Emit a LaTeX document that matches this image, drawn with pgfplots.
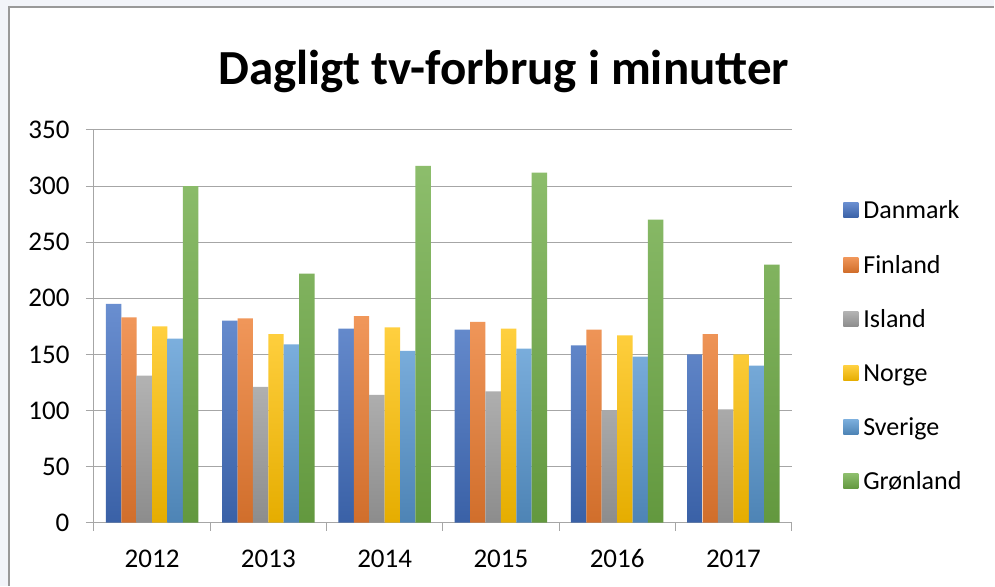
\documentclass[border=0pt]{standalone}
\usepackage{fontspec}
\setmainfont{Carlito}
\usepackage{pgfplots}
\pgfplotsset{compat=1.18}
\definecolor{cDK}{HTML}{4472C4}
\definecolor{cFI}{HTML}{ED7D31}
\definecolor{cIS}{HTML}{A5A5A5}
\definecolor{cNO}{HTML}{FFC000}
\definecolor{cSE}{HTML}{5B9BD5}
\definecolor{cGL}{HTML}{70AD47}
\definecolor{bgc}{HTML}{F2F4F9}
\definecolor{gridc}{HTML}{A6A6A6}
\begin{document}
\begin{tikzpicture}
\fill[bgc] (0pt,0pt) rectangle (995pt,586pt);
\fill[white] (9pt,0pt) rectangle (995pt,579pt);
\draw[gray!80, line width=1.2pt] (9pt,0pt) -- (9pt,579pt) -- (995pt,579pt);
\node[font=\fontsize{49}{54}\selectfont\bfseries, anchor=base, inner sep=0pt] at (504pt,501pt) {Dagligt tv-forbrug i minutter};
\begin{axis}[
  at={(94pt,63pt)}, anchor=south west, scale only axis,
  width=698pt, height=393pt,
  ymin=0, ymax=350, ytick={0,50,...,350},
  xmin=-0.5, xmax=5.5,
  xtick={-0.5,0.5,...,5.5}, x tick label as interval,
  xticklabels={2012,2013,2014,2015,2016,2017},
  ybar=0pt, bar width=0.1325,
  ymajorgrids, grid style={gridc, line width=0.9pt},
  axis x line*=bottom, axis y line*=left,
  axis line style={gridc, line width=0.9pt},
  tick align=outside, major tick length=8pt,
  tick style={gridc, line width=0.9pt},
  /pgf/number format/assume math mode=true,
  ticklabel style={font=\fontsize{27}{31}\selectfont, text=black},
  yticklabel style={xshift=-13pt},
  xticklabel style={yshift=-15pt, text height=18pt, text depth=0pt},
  legend style={at={(1.074,0.825)}, anchor=north west, draw=none, fill=none,
    font=\fontsize{26}{30}\selectfont, row sep=31pt, inner sep=0pt,
    nodes={inner ysep=2pt, inner xsep=5pt}},
  legend cell align=left,
  legend image code/.code={\path[#1, draw=none] (0pt,-7pt) rectangle (15pt,8pt);},
]
\addplot[draw=none, top color=cDK!80!white, bottom color=cDK!85!black] coordinates {(0,195) (1,180) (2,173) (3,172) (4,158) (5,150)};
\addplot[draw=none, top color=cFI!80!white, bottom color=cFI!88!black] coordinates {(0,183) (1,182) (2,184) (3,179) (4,172) (5,168)};
\addplot[draw=none, top color=cIS!85!white, bottom color=cIS!85!black] coordinates {(0,131) (1,121) (2,114) (3,117) (4,100) (5,101)};
\addplot[draw=none, top color=cNO!75!white, bottom color=cNO!90!black] coordinates {(0,175) (1,168) (2,174) (3,173) (4,167) (5,150)};
\addplot[draw=none, top color=cSE!80!white, bottom color=cSE!85!black] coordinates {(0,164) (1,159) (2,153) (3,155) (4,148) (5,140)};
\addplot[draw=none, top color=cGL!80!white, bottom color=cGL!88!black] coordinates {(0,300) (1,222) (2,318) (3,312) (4,270) (5,230)};
\legend{Danmark,Finland,Island,Norge,Sverige,Grønland}
\end{axis}
\end{tikzpicture}
\end{document}
